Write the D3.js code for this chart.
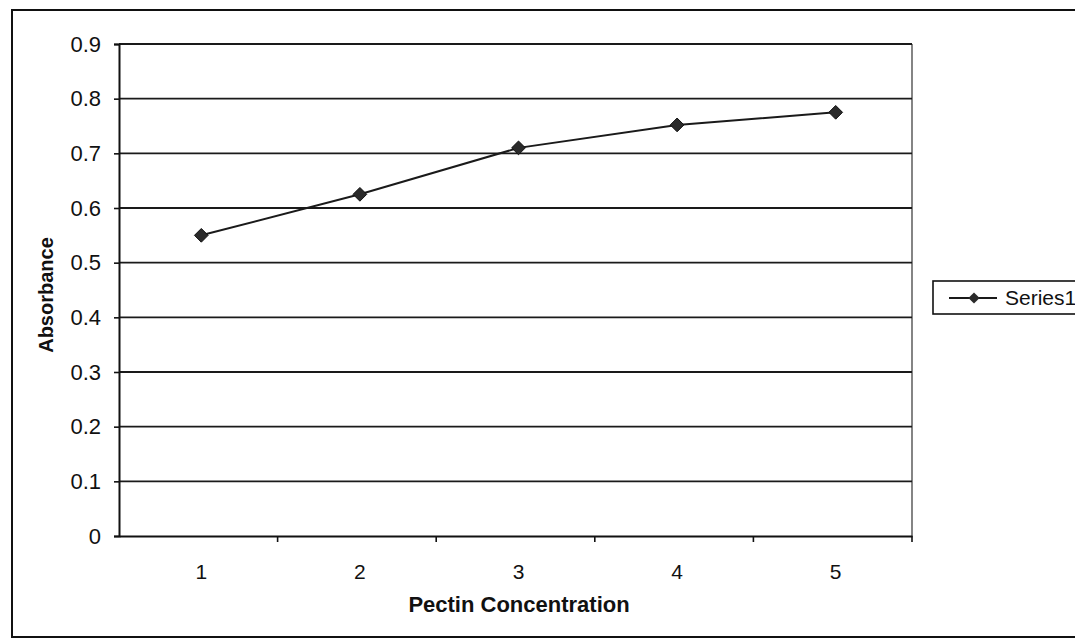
<!DOCTYPE html>
<html>
<head>
<meta charset="utf-8">
<script src="https://cdn.jsdelivr.net/npm/d3@7"></script>
<style>
  body { margin: 0; background: #fff; }
  svg { display: block; font-family: "Liberation Sans", Arial, sans-serif; }
</style>
</head>
<body>
<div class="graph"></div>
<script>
// chart data
const categories = ['1', '2', '3', '4', '5']
const series1 = [0.55, 0.625, 0.71, 0.752, 0.775]
const yTicks = [0, 0.1, 0.2, 0.3, 0.4, 0.5, 0.6, 0.7, 0.8, 0.9]
const seriesName = 'Series1'

const width = 1075, height = 641
const plot = { left: 119, right: 912, top: 44, bottom: 536 }

const svg = d3.select('.graph').append('svg')
  .attr('width', width).attr('height', height)

// outer chart frame
svg.append('rect')
  .attr('x', 12).attr('y', 10).attr('width', 1080).attr('height', 627)
  .attr('fill', '#fff').attr('stroke', '#111').attr('stroke-width', 2)

const x = d3.scaleBand().domain(categories).range([plot.left, plot.right])
const y = d3.scaleLinear().domain([0, 0.9]).range([plot.bottom, plot.top])

// plot area right border
svg.append('line')
  .attr('x1', plot.right).attr('x2', plot.right)
  .attr('y1', plot.top).attr('y2', plot.bottom)
  .attr('stroke', '#333').attr('stroke-width', 1.2)

// gridlines
svg.append('g').selectAll('line')
  .data(yTicks.filter(d => d > 0))
  .enter().append('line')
  .attr('x1', plot.left).attr('x2', plot.right)
  .attr('y1', d => y(d)).attr('y2', d => y(d))
  .attr('stroke', '#1a1a1a').attr('stroke-width', 1.8)

// y axis
const yAxis = svg.append('g')
  .attr('transform', `translate(${plot.left},0)`)
  .call(d3.axisLeft(y).tickValues(yTicks).tickSize(5).tickPadding(13)
    .tickFormat(d => d === 0 ? '0' : d3.format('.1f')(d)))
yAxis.attr('font-size', null).attr('font-family', null)
yAxis.select('.domain').attr('stroke', '#111').attr('stroke-width', 2)
yAxis.selectAll('.tick line').attr('stroke', '#111').attr('stroke-width', 1.6)
yAxis.selectAll('.tick text').style('font-size', '22px').attr('fill', '#111')

// x axis (category ticks between bands)
const xAxis = svg.append('g')
  .attr('transform', `translate(0,${plot.bottom})`)
  .call(d3.axisBottom(x).tickSize(0).tickPadding(28))
xAxis.attr('font-size', null).attr('font-family', null)
xAxis.select('.domain').attr('stroke', '#111').attr('stroke-width', 2)
xAxis.selectAll('.tick text').style('font-size', '21px').attr('fill', '#111')
  .attr('dx', 3)
xAxis.selectAll('.sep')
  .data(categories)
  .enter().append('line')
  .attr('class', 'sep')
  .attr('x1', d => x(d) + x.bandwidth()).attr('x2', d => x(d) + x.bandwidth())
  .attr('y1', 0).attr('y2', 6)
  .attr('stroke', '#111').attr('stroke-width', 1.6)

// axis titles
svg.append('text')
  .attr('x', 519).attr('y', 612)
  .attr('text-anchor', 'middle').style('font-size', '22px').attr('font-weight', 'bold')
  .attr('fill', '#111')
  .text('Pectin Concentration')
svg.append('text')
  .attr('transform', 'translate(53,295) rotate(-90)')
  .attr('text-anchor', 'middle').style('font-size', '20px').attr('font-weight', 'bold')
  .attr('fill', '#111')
  .text('Absorbance')

// series line + markers
const cx = d => x(d) + x.bandwidth() / 2 + 3
const line = d3.line()
  .x((d, i) => cx(categories[i]))
  .y(d => y(d))
svg.append('path')
  .datum(series1)
  .attr('d', line)
  .attr('fill', 'none').attr('stroke', '#1a1a1a').attr('stroke-width', 2)

const diamond = d3.symbol().type(d3.symbolDiamond2).size(120)
svg.append('g').selectAll('path')
  .data(series1)
  .enter().append('path')
  .attr('d', diamond)
  .attr('transform', (d, i) => `translate(${cx(categories[i])},${y(d)})`)
  .attr('fill', '#2a2a2a').attr('stroke', '#111').attr('stroke-width', 1)

// legend
const lg = svg.append('g').attr('transform', 'translate(933,281)')
lg.append('rect')
  .attr('width', 160).attr('height', 33)
  .attr('fill', '#fff').attr('stroke', '#111').attr('stroke-width', 1.6)
lg.append('line')
  .attr('x1', 16).attr('x2', 64).attr('y1', 17).attr('y2', 17)
  .attr('stroke', '#1a1a1a').attr('stroke-width', 2)
lg.append('path')
  .attr('d', d3.symbol().type(d3.symbolDiamond2).size(80))
  .attr('transform', 'translate(41,17)')
  .attr('fill', '#2a2a2a')
lg.append('text')
  .attr('x', 72).attr('y', 24)
  .style('font-size', '21px').attr('fill', '#111')
  .text(seriesName)
</script>
</body>
</html>
